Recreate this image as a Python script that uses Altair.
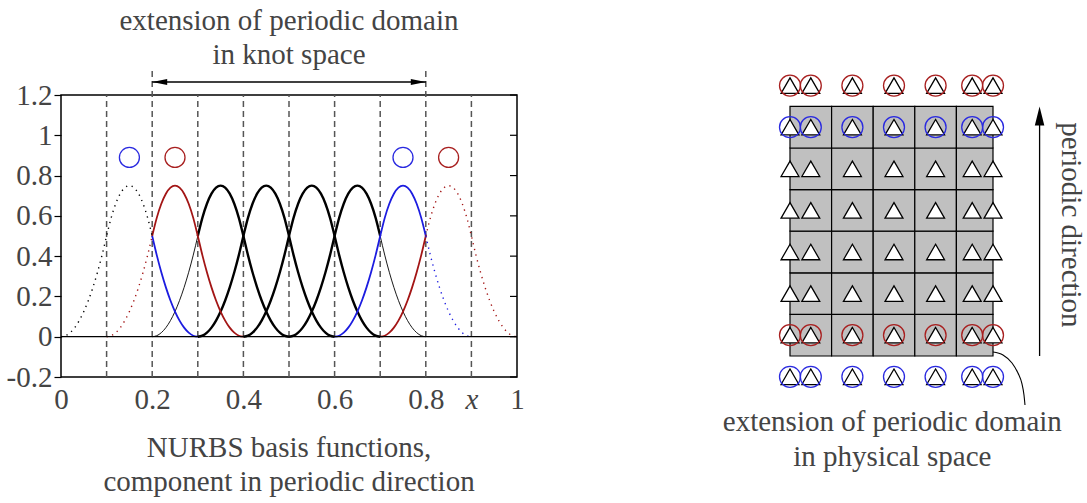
import altair as alt
import pandas as pd

FONT = "Liberation Serif"
TXT = "#444444"
FS = 29

# ---------------- left panel data ----------------
knots = [0.1, 0.2, 0.3, 0.4, 0.5, 0.6, 0.7, 0.8, 0.9]
knot_tops = [1.2, 1.319, 1.2, 1.2, 1.2, 1.2, 1.2, 1.319, 1.2]
# one quadratic basis function, every 0.01 across its support (0.3 wide)
basis_shape = [0, 0.005, 0.02, 0.045, 0.08, 0.125, 0.18, 0.245, 0.32, 0.405, 0.5,
               0.59, 0.66, 0.71, 0.74, 0.75, 0.74, 0.71, 0.66, 0.59, 0.5,
               0.405, 0.32, 0.245, 0.18, 0.125, 0.08, 0.045, 0.02, 0.005, 0]
basis_starts = [0.0, 0.1, 0.2, 0.3, 0.4, 0.5, 0.6, 0.7]
seg_basis = [0, 0, 1, 1, 2, 2, 3, 4, 5, 5, 6, 6, 7, 7]
seg_from = [0.0, 0.2, 0.1, 0.2, 0.2, 0.3, 0.3, 0.4, 0.5, 0.7, 0.6, 0.8, 0.7, 0.8]
seg_to = [0.2, 0.3, 0.2, 0.4, 0.3, 0.5, 0.6, 0.7, 0.7, 0.8, 0.8, 0.9, 0.8, 1.0]
seg_style = ["dot_black", "blue", "dot_red", "red", "thin", "thick", "thick", "thick",
             "thick", "thin", "blue", "dot_blue", "red", "dot_red"]

ctrl_x = [0.15, 0.25, 0.75, 0.85]
ctrl_y = [0.89, 0.89, 0.89, 0.89]
ctrl_col = ["blue", "red", "blue", "red"]

ytick_values = [-0.2, 0, 0.2, 0.4, 0.6, 0.8, 1.0, 1.2]
xtick_values = [0, 0.2, 0.4, 0.6, 0.8, 0.9, 1.0]

arrow_y = 1.2645
arrow_from, arrow_to = 0.2, 0.8
arrow_head_x = [0.2164, 0.7836]
arrow_head_dir = ["left", "right"]

left_text = ["extension of periodic domain", "in knot space",
             "NURBS basis functions,", "component in periodic direction"]
left_text_x = [0.5, 0.5, 0.5, 0.5]
left_text_y = [1.522, 1.355, -0.595, -0.768]

# ---------------- right panel data ----------------
grid_cols = [0, 1, 2, 3, 4, 4.88]
grid_rows = [0, 1, 2, 3, 4, 5, 6]
marker_x = [0, 0.5, 1.5, 2.5, 3.5, 4.38, 4.88]
marker_y = [-0.5, 0.5, 1.5, 2.5, 3.5, 4.5, 5.5, 6.5]
circle_rows = [-0.5, 0.5, 5.5, 6.5]
circle_row_col = ["blue", "red", "blue", "red"]

dir_arrow_x = 6.0
dir_arrow_y0, dir_arrow_y1 = 0.0, 5.772
dir_head_y = 5.772

conn_x = [4.88, 5.12, 5.337, 5.48, 5.577, 5.625, 5.649]
conn_y = [0.096, 0.024, -0.168, -0.409, -0.673, -0.9375, -1.178]

right_text = ["extension of periodic domain", "in physical space"]
right_text_x = [2.46, 2.46]
right_text_y = [-1.80, -2.64]
dir_text = "periodic direction"
dir_text_x = 6.53
dir_text_y = 3.15

RED = "#a31515"
BLUE = "#1c1ce0"
COLORS = {"red": "#a82020", "blue": "#2a2ae0"}

# ---------------- build left tables ----------------
rows = []
for i, (b, a, c, st) in enumerate(zip(seg_basis, seg_from, seg_to, seg_style)):
    s = basis_starts[b]
    k0 = int(round((a - s) * 100))
    k1 = int(round((c - s) * 100))
    for k in range(k0, k1 + 1):
        rows.append({"x": round(s + k * 0.01, 4), "y": basis_shape[k], "seg": i, "style": st})
curves = pd.DataFrame(rows)

xs = alt.Scale(domain=[0, 1], nice=False, zero=False)
ys = alt.Scale(domain=[-0.2, 1.2], nice=False, zero=False)

x_axis = alt.Axis(values=xtick_values, ticks=False, domain=False, grid=False, title=None,
                  labelFont=FONT, labelFontSize=FS, labelColor=TXT, labelPadding=8,
                  labelFlush=False, labelOverlap=False,
                  labelExpr="datum.value > 0.85 && datum.value < 0.95 ? 'x' : format(datum.value, '~g')",
                  labelFontStyle={"condition": {"test": "datum.value > 0.85 && datum.value < 0.95",
                                                "value": "italic"}, "value": "normal"})
y_axis = alt.Axis(values=ytick_values, tickSize=7, tickColor="black", tickWidth=1.2,
                  domain=False, grid=False, title=None,
                  labelFont=FONT, labelFontSize=FS, labelColor=TXT, labelPadding=2,
                  labelFlush=False, labelOverlap=False,
                  labelExpr="replace(format(datum.value, '~g'), '\u2212', '-')")

knot_df = pd.DataFrame({"x": knots, "y0": [-0.2] * len(knots), "y1": knot_tops})
knot_layer = alt.Chart(knot_df).mark_rule(color="#555555", strokeWidth=1.5, strokeDash=[6, 4]).encode(
    x=alt.X("x:Q", scale=xs, axis=x_axis),
    y=alt.Y("y0:Q", scale=ys, axis=y_axis),
    y2="y1:Q",
)

zero_df = pd.DataFrame({"x0": [0.0], "x1": [1.0], "y": [0.0]})
zero_layer = alt.Chart(zero_df).mark_rule(color="black", strokeWidth=1.3).encode(
    x=alt.X("x0:Q", scale=xs), x2="x1:Q", y=alt.Y("y:Q", scale=ys))

rtick_df = pd.DataFrame({"x0": [1 - 7 / 456] * len(ytick_values), "x1": [1.0] * len(ytick_values),
                         "y": ytick_values})
rtick_layer = alt.Chart(rtick_df).mark_rule(color="black", strokeWidth=1.2).encode(
    x=alt.X("x0:Q", scale=xs), x2="x1:Q", y=alt.Y("y:Q", scale=ys))

styles = {
    "thick": dict(color="black", strokeWidth=2.4),
    "thin": dict(color="black", strokeWidth=0.9),
    "red": dict(color=RED, strokeWidth=1.8),
    "blue": dict(color=BLUE, strokeWidth=1.8),
    "dot_black": dict(color="black", strokeWidth=1.4, strokeDash=[1.3, 4.5]),
    "dot_red": dict(color=RED, strokeWidth=1.4, strokeDash=[1.3, 4.5]),
    "dot_blue": dict(color=BLUE, strokeWidth=1.4, strokeDash=[1.3, 4.5]),
}
curve_layers = []
for st, props in styles.items():
    curve_layers.append(
        alt.Chart(curves[curves["style"] == st]).mark_line(interpolate="monotone", **props).encode(
            x=alt.X("x:Q", scale=xs), y=alt.Y("y:Q", scale=ys),
            detail="seg:N", order="x:Q"))

ctrl_df = pd.DataFrame({"x": ctrl_x, "y": ctrl_y, "c": ctrl_col})
ctrl_layer = alt.Chart(ctrl_df).mark_point(shape="circle", size=400, strokeWidth=1.3,
                                           filled=False, opacity=1).encode(
    x=alt.X("x:Q", scale=xs), y=alt.Y("y:Q", scale=ys),
    color=alt.Color("c:N", scale=alt.Scale(domain=["blue", "red"],
                                           range=[COLORS["blue"], COLORS["red"]]), legend=None))

arr_df = pd.DataFrame({"x0": [arrow_from], "x1": [arrow_to], "y": [arrow_y]})
arr_layer = alt.Chart(arr_df).mark_rule(color="black", strokeWidth=1.3).encode(
    x=alt.X("x0:Q", scale=xs), x2="x1:Q", y=alt.Y("y:Q", scale=ys))
head_df = pd.DataFrame({"x": arrow_head_x, "y": [arrow_y] * 2, "d": arrow_head_dir})
head_layers = [
    alt.Chart(head_df[head_df["d"] == "left"]).mark_point(
        shape="M-1,0L1,-0.4L1,0.4Z", size=225, filled=True, color="black", opacity=1).encode(
        x=alt.X("x:Q", scale=xs), y=alt.Y("y:Q", scale=ys)),
    alt.Chart(head_df[head_df["d"] == "right"]).mark_point(
        shape="M1,0L-1,-0.4L-1,0.4Z", size=225, filled=True, color="black", opacity=1).encode(
        x=alt.X("x:Q", scale=xs), y=alt.Y("y:Q", scale=ys)),
]

ltext_df = pd.DataFrame({"x": left_text_x, "y": left_text_y, "t": left_text})
ltext_layer = alt.Chart(ltext_df).mark_text(font=FONT, fontSize=FS, color=TXT,
                                            align="center", baseline="alphabetic").encode(
    x=alt.X("x:Q", scale=xs), y=alt.Y("y:Q", scale=ys), text="t:N")

left = alt.layer(knot_layer, *curve_layers, zero_layer, rtick_layer, ctrl_layer,
                 arr_layer, *head_layers, ltext_layer).properties(
    width=456, height=282, view=alt.ViewBackground(stroke="black", strokeWidth=1.5))

# ---------------- build right tables ----------------
rxs = alt.Scale(domain=[0, 4.88], nice=False, zero=False)
rys = alt.Scale(domain=[-0.505, 6.274], nice=False, zero=False)

cells = []
for i in range(len(grid_cols) - 1):
    for j in range(len(grid_rows) - 1):
        cells.append({"x0": grid_cols[i], "x1": grid_cols[i + 1],
                      "y0": grid_rows[j], "y1": grid_rows[j + 1]})
cell_df = pd.DataFrame(cells)
cell_layer = alt.Chart(cell_df).mark_rect(fill="#c0c0c0", stroke="black", strokeWidth=1.2).encode(
    x=alt.X("x0:Q", scale=rxs, axis=None), x2="x1:Q",
    y=alt.Y("y0:Q", scale=rys, axis=None), y2="y1:Q")

tri_df = pd.DataFrame([{"x": mx, "y": my} for my in marker_y for mx in marker_x])
tri_layer = alt.Chart(tri_df).mark_point(shape="triangle-up", size=320, filled=True,
                                         fill="white", stroke="black", strokeWidth=1.3,
                                         opacity=1).encode(
    x=alt.X("x:Q", scale=rxs, axis=None), y=alt.Y("y:Q", scale=rys, axis=None))

circ_df = pd.DataFrame([{"x": mx, "y": ry, "c": rc}
                        for ry, rc in zip(circle_rows, circle_row_col) for mx in marker_x])
circ_layer = alt.Chart(circ_df).mark_point(shape="circle", size=441, strokeWidth=1.3,
                                           filled=False, opacity=1).encode(
    x=alt.X("x:Q", scale=rxs, axis=None), y=alt.Y("y:Q", scale=rys, axis=None),
    color=alt.Color("c:N", scale=alt.Scale(domain=["blue", "red"],
                                           range=[COLORS["blue"], COLORS["red"]]), legend=None))

darr_df = pd.DataFrame({"x": [dir_arrow_x], "y0": [dir_arrow_y0], "y1": [dir_arrow_y1]})
darr_layer = alt.Chart(darr_df).mark_rule(color="black", strokeWidth=1.3).encode(
    x=alt.X("x:Q", scale=rxs, axis=None), y=alt.Y("y0:Q", scale=rys, axis=None), y2="y1:Q")
dhead_df = pd.DataFrame({"x": [dir_arrow_x], "y": [dir_head_y]})
dhead_layer = alt.Chart(dhead_df).mark_point(shape="M0,-1L0.5,1L-0.5,1Z", size=361, filled=True,
                                             color="black", opacity=1).encode(
    x=alt.X("x:Q", scale=rxs, axis=None), y=alt.Y("y:Q", scale=rys, axis=None))

conn_df = pd.DataFrame({"x": conn_x, "y": conn_y, "i": list(range(len(conn_x)))})
conn_layer = alt.Chart(conn_df).mark_line(color="black", strokeWidth=1.1, interpolate="monotone").encode(
    x=alt.X("x:Q", scale=rxs, axis=None), y=alt.Y("y:Q", scale=rys, axis=None), order="i:Q")

rtext_df = pd.DataFrame({"x": right_text_x, "y": right_text_y, "t": right_text})
rtext_layer = alt.Chart(rtext_df).mark_text(font=FONT, fontSize=FS, color=TXT,
                                            align="center", baseline="alphabetic").encode(
    x=alt.X("x:Q", scale=rxs, axis=None), y=alt.Y("y:Q", scale=rys, axis=None), text="t:N")

dtext_df = pd.DataFrame({"x": [dir_text_x], "y": [dir_text_y], "t": [dir_text]})
dtext_layer = alt.Chart(dtext_df).mark_text(font=FONT, fontSize=FS, color=TXT, angle=90,
                                            align="center", baseline="alphabetic").encode(
    x=alt.X("x:Q", scale=rxs, axis=None), y=alt.Y("y:Q", scale=rys, axis=None), text="t:N")

right = alt.layer(cell_layer, tri_layer, circ_layer, darr_layer, dhead_layer, conn_layer,
                  rtext_layer, dtext_layer).properties(
    width=203, height=282, view=alt.ViewBackground(stroke="transparent", strokeWidth=0))

chart = alt.hconcat(left, right, spacing=273, bounds="flush").properties(
    autosize=alt.AutoSizeParams(type="none"),
    padding={"left": 61, "top": 95, "right": 1026, "bottom": 408},
    background="white",
).resolve_scale(color="shared")

chart.save("out.html", embed_options={"renderer": "svg", "actions": False})
